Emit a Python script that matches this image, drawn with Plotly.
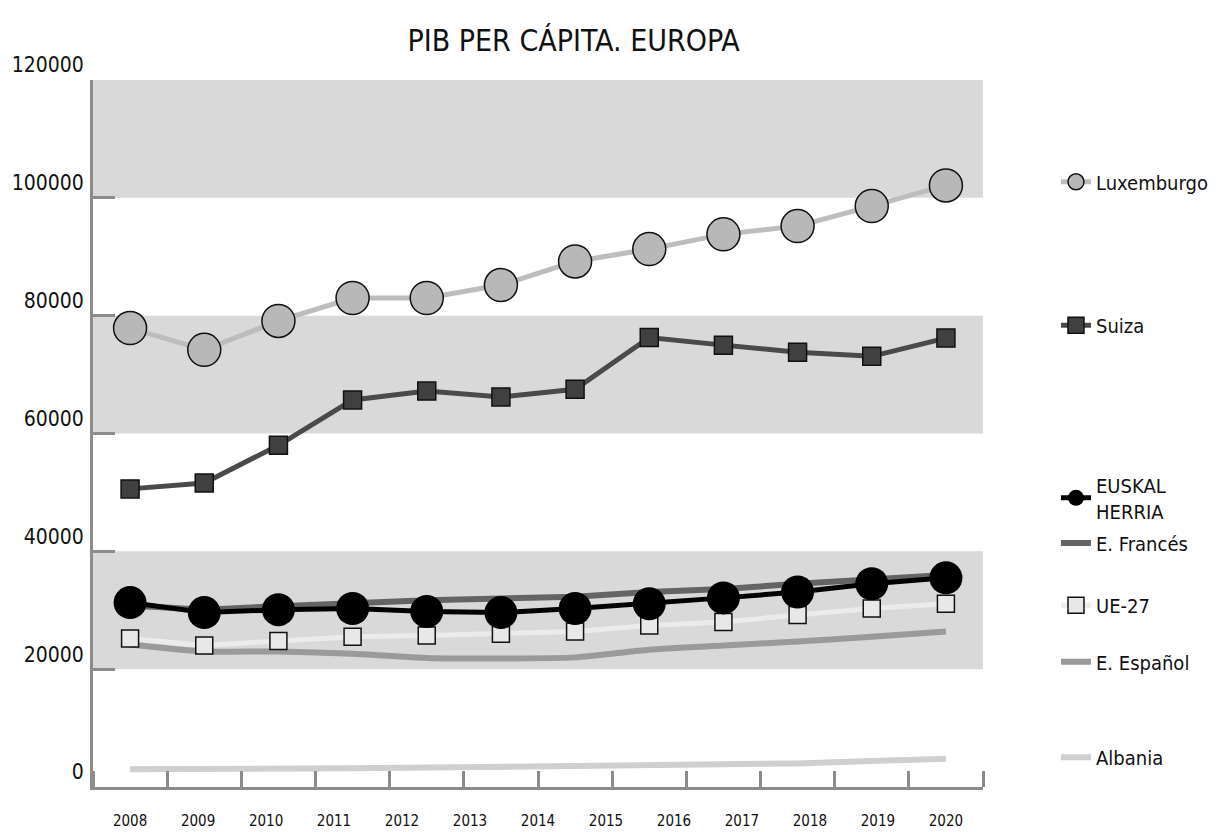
import plotly.graph_objects as go

# Etiquetas del eje X (13 años) y valores de cada serie (12 puntos)
years = ['2008', '2009', '2010', '2011', '2012', '2013', '2014',
         '2015', '2016', '2017', '2018', '2019', '2020']

luxemburgo = [77900, 74200, 79100, 83000, 83000, 85200, 89200, 91300, 93800, 95200, 98600, 102100]
suiza = [50600, 51600, 58000, 65700, 67200, 66200, 67500, 76300, 75000, 73800, 73100, 76200]
euskal_herria = [31300, 29600, 30100, 30300, 29800, 29600, 30300, 31100, 32100, 33100, 34500, 35500]
e_frances = [30800, 30100, 30700, 31300, 31700, 32000, 32300, 33100, 33600, 34500, 35300, 36000]
ue27 = [25200, 24000, 24800, 25500, 25700, 26000, 26400, 27400, 28000, 29200, 30300, 31100]
e_espanol = [24200, 23000, 23000, 22600, 21900, 21800, 22000, 23300, 24000, 24700, 25500, 26400]
albania = [3000, 3000, 3100, 3200, 3300, 3400, 3500, 3600, 3800, 4000, 4400, 4800]

y_ticks = [0, 20000, 40000, 60000, 80000, 100000, 120000]

FONT = 'Liberation Sans Narrow, DejaVu Sans Condensed, sans-serif'
AXIS_GREY = '#8c8c8c'

n = len(luxemburgo)
x = list(range(n))

fig = go.Figure()

# Orden de dibujo: de abajo hacia arriba
fig.add_trace(go.Scatter(x=x, y=albania, name='Albania', mode='lines',
                         line=dict(color='#cfcfcf', width=6), legend='legend7'))
fig.add_trace(go.Scatter(x=x, y=e_espanol, name='E. Español', mode='lines',
                         line=dict(color='#9a9a9a', width=6, shape='spline', smoothing=0.6),
                         legend='legend6'))
fig.add_trace(go.Scatter(x=x, y=ue27, name='UE-27', mode='lines+markers',
                         line=dict(color='#ebebeb', width=5),
                         marker=dict(symbol='square', size=17, color='#e8e8e8',
                                     line=dict(color='#111111', width=1.5)),
                         legend='legend5'))
fig.add_trace(go.Scatter(x=x, y=e_frances, name='E. Francés', mode='lines',
                         line=dict(color='#646464', width=6), legend='legend4'))
fig.add_trace(go.Scatter(x=x, y=euskal_herria, name='EUSKAL<br>HERRIA', mode='lines+markers',
                         line=dict(color='#000000', width=5),
                         marker=dict(size=33, color='#000000'),
                         legend='legend3'))
fig.add_trace(go.Scatter(x=x, y=suiza, name='Suiza', mode='lines+markers',
                         line=dict(color='#4a4a4a', width=5),
                         marker=dict(symbol='square', size=18, color='#404040',
                                     line=dict(color='#111111', width=1.5)),
                         legend='legend2'))
fig.add_trace(go.Scatter(x=x, y=luxemburgo, name='Luxemburgo', mode='lines+markers',
                         line=dict(color='#bdbdbd', width=5),
                         marker=dict(size=33, color='#b8b8b8',
                                     line=dict(color='#111111', width=1.5)),
                         legend='legend'))

# Bandas grises alternas entre marcas del eje Y
for lo, hi in zip(y_ticks[1::2], y_ticks[2::2]):
    fig.add_shape(type='rect', xref='paper', x0=0, x1=1, yref='y', y0=lo, y1=hi,
                  fillcolor='#d9d9d9', line_width=0, layer='below')

# Leyendas separadas, alineadas con cada serie
legend_pos = {'legend': 0.856, 'legend2': 0.653, 'legend3': 0.409, 'legend4': 0.345,
              'legend5': 0.257, 'legend6': 0.177, 'legend7': 0.042}
legend_layouts = {}
for key, ypos in legend_pos.items():
    legend_layouts[key] = dict(x=1.082, xanchor='left', y=ypos, yanchor='middle',
                               bgcolor='rgba(0,0,0,0)', font=dict(size=20, color='#111111'),
                               itemsizing='trace')

label_pos = [i * (n - 1) / (len(years) - 1) for i in range(len(years))]

# la página deja 8 px de margen, de ahí 1214x824
fig.update_layout(
    width=1214, height=824,
    showlegend=True,
    margin=dict(l=85, r=239, t=72, b=45, autoexpand=False),
    paper_bgcolor='white', plot_bgcolor='white',
    font=dict(family=FONT, color='#111111'),
    title=dict(text='PIB PER CÁPITA. EUROPA', x=0.54, xref='paper', xanchor='center',
               y=0.961, yanchor='middle', font=dict(size=30, color='#111111')),
    xaxis=dict(range=[-0.5, n - 0.5], tickvals=label_pos, ticktext=years, ticks='',
               showgrid=False, zeroline=False, showline=True, linecolor=AXIS_GREY, linewidth=3,
               tickfont=dict(size=15), ticklabelstandoff=18,
               minor=dict(tickvals=[i - 0.5 for i in range(n + 1)], ticks='inside',
                          ticklen=16, tickwidth=3, tickcolor=AXIS_GREY, showgrid=False)),
    yaxis=dict(range=[0, 120000], tickvals=y_ticks, tickformat='d', ticks='inside',
               ticklen=22, tickwidth=3, tickcolor=AXIS_GREY, showgrid=False, zeroline=False,
               showline=True, linecolor=AXIS_GREY, linewidth=3, tickfont=dict(size=21),
               ticklabelshift=-15, ticklabelstandoff=2),
    **legend_layouts,
)

fig.write_html('out.html')
